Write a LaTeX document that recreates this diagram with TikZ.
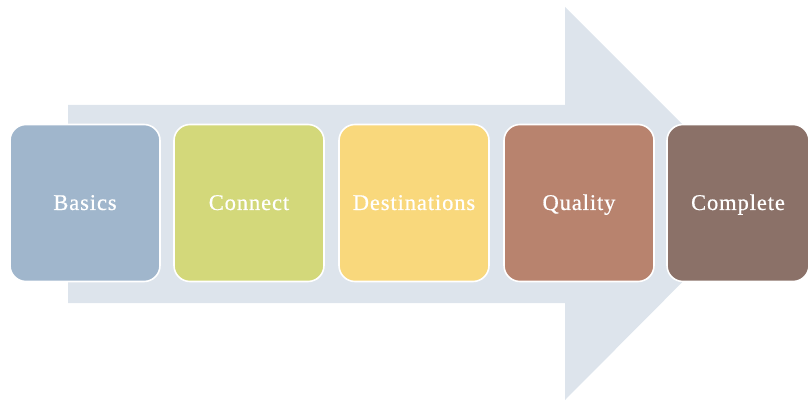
\documentclass[tikz,border=0pt]{standalone}
\usepackage{fontspec}
\setmainfont{Liberation Serif}
\newfontfamily\stagefont[LetterSpace=4,FakeBold=0.6]{Liberation Serif}
\definecolor{arrowc}{HTML}{DDE4EC}
\definecolor{cA}{HTML}{A0B6CC}
\definecolor{cB}{HTML}{D3D87A}
\definecolor{cC}{HTML}{F9D87C}
\definecolor{cD}{HTML}{B8836E}
\definecolor{cE}{HTML}{8B7168}
\begin{document}
\begin{tikzpicture}[x=1pt,y=-1pt,
  stagebox/.style={draw=white,line width=1.6pt,rounded corners=16pt,
    minimum width=150pt,minimum height=157pt,inner sep=0pt,
    text height=19pt,text depth=5pt,
    text=white,font=\stagefont\fontsize{22.5}{26}\selectfont,anchor=center}]
\useasboundingbox (0,0) rectangle (809,401);
\fill[arrowc] (68,105) -- (565,105) -- (565,7) -- (761,203) -- (565,400) -- (565,303) -- (68,303) -- cycle;
\node[stagebox,fill=cA] (basics) at (85,203) {Basics};
\node[stagebox,fill=cB] (connect) at (249,203) {Connect};
\node[stagebox,fill=cC] (dest) at (414,203) {Destinations};
\node[stagebox,fill=cD] (quality) at (579,203) {Quality};
\node[stagebox,fill=cE,minimum width=142pt] (complete) at (738,203) {Complete};
\end{tikzpicture}
\end{document}
